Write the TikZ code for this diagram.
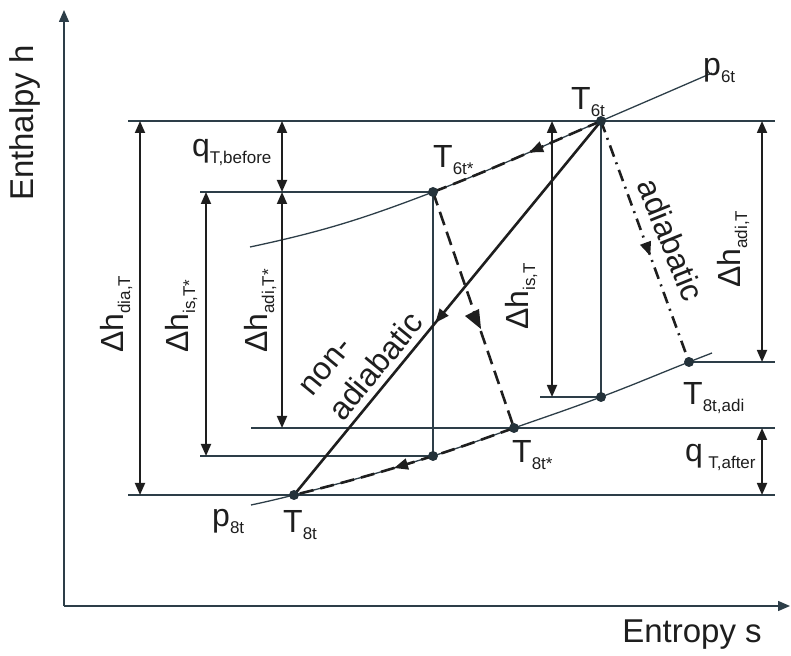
\documentclass[tikz,border=0pt]{standalone}
\usepackage{fontspec}
\setmainfont{Liberation Sans}
\usetikzlibrary{arrows.meta,decorations.markings}
\definecolor{ln}{RGB}{45,62,72}
\definecolor{tx}{RGB}{30,30,30}
\newcommand\sbs[1]{\raisebox{-7pt}{\fontsize{17}{17}\selectfont #1}}
\begin{document}
\begin{tikzpicture}[x=1pt,y=1pt,
  thinln/.style={draw=ln, line width=1.3pt},
  dimarr/.style={draw=tx, line width=1.8pt, {Triangle[length=12pt,width=10pt]}-{Triangle[length=12pt,width=10pt]}},
  axis/.style={draw=ln, line width=1.5pt, -{Triangle[length=12pt,width=10pt]}},
  proc/.style={draw=tx, line width=2.6pt},
  dashproc/.style={proc, dash pattern=on 14pt off 7pt},
  dashdot/.style={proc, dash pattern=on 12pt off 6pt on 2pt off 6pt},
  dot/.style={circle, fill=ln!80!black, inner sep=0pt, minimum size=10pt},
  lbl/.style={text=tx, font=\fontsize{32}{40}\selectfont, inner sep=0pt},
  midarrow/.style={postaction={decorate}, decoration={markings, mark=at position #1 with {\arrow{Triangle[length=14pt,width=11pt]}}}},
]
\useasboundingbox (0,0) rectangle (791,655);
% axes
\coordinate (O) at (64,49);
\coordinate (ytip) at (64,645);
\coordinate (xtip) at (790,49);
\draw[axis] (O) -- (ytip);
\draw[axis] (O) -- (xtip);
\node[lbl, font=\fontsize{33}{40}\selectfont, rotate=90] (ylab) at (25,532) {Enthalpy h};
\node[lbl, font=\fontsize{33}{40}\selectfont] (xlab) at (692,20) {Entropy s};
% state points
\coordinate (T6t) at (601,534);
\coordinate (T6ts) at (433,463);
\coordinate (T8t) at (294,160);
\coordinate (T8ts) at (514,227);
\coordinate (P1) at (433,199);
\coordinate (P2) at (601,258);
\coordinate (T8ta) at (689,293);
\coordinate (A0) at (250,408);
\coordinate (A3) at (712,582);
\coordinate (B0) at (251,150);
\coordinate (B6) at (712,302);
% isobars
\draw[thinln] (A0) to[out=12,in=201] (T6ts) to[out=21,in=203.3] (T6t) to[out=23.3,in=203.5] (A3);
\draw[thinln] (B0) to[out=12,in=194] (T8t) to[out=14,in=197.5] (P1) to[out=17.5,in=199.4] (T8ts)
  to[out=19.4,in=200.7] (P2) to[out=20.7,in=201.6] (T8ta) to[out=21.6,in=201.4] (B6);
% horizontal level lines
\coordinate (h1a) at (128,534); \coordinate (h1b) at (775,534);
\coordinate (h2a) at (200,463);
\coordinate (h3b) at (775,293);
\coordinate (h4a) at (540,258);
\coordinate (h5a) at (251,227); \coordinate (h5b) at (775,227);
\coordinate (h6a) at (200,199);
\coordinate (h7a) at (128,160); \coordinate (h7b) at (775,160);
\draw[thinln] (h1a) -- (h1b);
\draw[thinln] (h2a) -- (T6ts);
\draw[thinln] (T8ta) -- (h3b);
\draw[thinln] (h4a) -- (P2);
\draw[thinln] (h5a) -- (h5b);
\draw[thinln] (h6a) -- (P1);
\draw[thinln] (h7a) -- (h7b);
\draw[thinln] (T6ts) -- (P1);
\draw[thinln] (T6t) -- (P2);
% dimension arrows
\coordinate (da1) at (140,534); \coordinate (db1) at (140,160);
\coordinate (qbt) at (282,534); \coordinate (qbb) at (282,463);
\coordinate (ist) at (206,463); \coordinate (isb) at (206,199);
\coordinate (adt) at (282,463); \coordinate (adb) at (282,227);
\coordinate (iTt) at (552,534); \coordinate (iTb) at (552,258);
\coordinate (aTt) at (762,534); \coordinate (aTb) at (762,293);
\coordinate (qat) at (762,227); \coordinate (qab) at (762,160);
\draw[dimarr] (da1) -- (db1);
\draw[dimarr] (qbt) -- (qbb);
\draw[dimarr] (ist) -- (isb);
\draw[dimarr] (adt) -- (adb);
\draw[dimarr] (iTt) -- (iTb);
\draw[dimarr] (aTt) -- (aTb);
\draw[dimarr] (qat) -- (qab);
% processes
\draw[proc, midarrow=0.54] (T6t) -- (T8t);
\draw[dashproc, midarrow=0.43] (T6t) to[out=203.3,in=21] (T6ts);
\draw[dashproc] (T6ts) -- (T8ts);
\fill[tx] (465,339) -- (479,346) -- (481,326) -- cycle;
\draw[dashproc, midarrow=0.55] (T8ts) to[out=199.4,in=17.5] (P1) to[out=197.5,in=14] (T8t);
\draw[dashdot, midarrow=0.56] (T6t) -- (T8ta);
% dots
\foreach \p in {T6t,T6ts,T8t,T8ts,P1,P2,T8ta} \node[dot] (d\p) at (\p) {};
% labels
\node[lbl, anchor=base west] (lp6t) at (703,579) {p\sbs{6t}};
\node[lbl, anchor=base west] (lT6t) at (571,545) {T\sbs{6t}};
\node[lbl, anchor=base west] (lT6ts) at (433,487) {T\sbs{6t*}};
\node[lbl, anchor=base west] (lT8ts) at (512,192) {T\sbs{8t*}};
\node[lbl, anchor=base west] (lT8ta) at (683,250) {T\sbs{8t,adi}};
\node[lbl, anchor=base west] (lT8t) at (283,122) {T\sbs{8t}};
\node[lbl, anchor=base west] (lp8t) at (212,128) {p\sbs{8t}};
\node[lbl, anchor=base west] (lqb) at (192,498) {q\sbs{T,before}};
\node[lbl, anchor=base west] (lqa) at (685,193) {q\,\sbs{T,after}};
\node[lbl, rotate=90, anchor=base west] (ldia) at (123,302) {Δh\sbs{dia,T}};
\node[lbl, rotate=90, anchor=base west] (list) at (188,302) {Δh\sbs{is,T*}};
\node[lbl, rotate=90, anchor=base west] (ladt) at (267,302) {Δh\sbs{adi,T*}};
\node[lbl, rotate=90, anchor=base west] (lisT) at (528,325) {Δh\sbs{is,T}};
\node[lbl, rotate=90, anchor=base west] (ladT) at (740,367) {Δh\sbs{adi,T}};
\node[lbl, rotate=50.6, align=left] (lna) at (362,300) {non-\\adiabatic};
\node[lbl, rotate=-68] (lad) at (671,415) {adiabatic};
\end{tikzpicture}
\end{document}
